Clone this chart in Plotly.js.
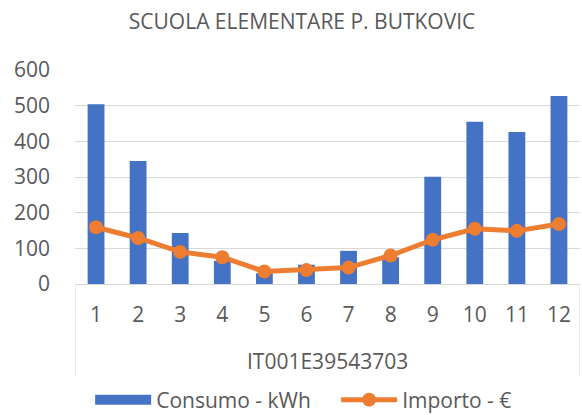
<!DOCTYPE html>
<html><head><meta charset="utf-8">
<script src="https://cdn.plot.ly/plotly-3.0.1.min.js"></script>
<style>html,body{margin:0;padding:0;background:#fff}#chart{width:582px;height:415px}</style>
</head><body><div id="chart"></div>
<script>
const groupLabel = "IT001E39543703";
const months = ["1","2","3","4","5","6","7","8","9","10","11","12"];
const consumo = [504, 345, 143, 65, 30, 54, 93, 75, 301, 455, 426, 527];
const importo = [159, 129, 90, 75, 35, 39, 46, 80, 124, 155, 149, 168];

const font = "'Open Sans', sans-serif";
const grey = "#595959";
const blue = "#4472C4";
const orange = "#ED7D31";
const lineGrey = "#d9d9d9";

Plotly.newPlot("chart", [
  {type: "scatter", mode: "lines", name: "Consumo - kWh",
   x: [null], y: [null], line: {color: blue, width: 13}, hoverinfo: "skip"},
  {type: "bar", name: "Consumo - kWh", showlegend: false,
   x: months, y: consumo, marker: {color: blue}},
  {type: "scatter", mode: "lines+markers", name: "Importo - €", x: months, y: importo,
   line: {color: orange, width: 5}, marker: {color: orange, size: 14}}
], {
  width: 582, height: 415,
  margin: {l: 75, r: 2, t: 70, b: 131, autoexpand: false},
  paper_bgcolor: "#fff", plot_bgcolor: "#fff",
  font: {family: font, color: grey, size: 21},
  title: {text: "SCUOLA ELEMENTARE P. BUTKOVIC", font: {size: 21, color: grey, family: font},
          xref: "container", x: 0.519, xanchor: "center", yref: "container", y: 0.948, yanchor: "middle"},
  bargap: 0.6,
  showlegend: true,
  legend: {orientation: "h", x: 0.03, xanchor: "left",
           y: -0.542, yanchor: "middle", font: {size: 21, color: grey}, itemwidth: 56,
           tracegroupgap: 0, entrywidth: 175},
  xaxis: {type: "category", range: [-0.5, 11.5], showline: true, linecolor: lineGrey, linewidth: 1,
          tickfont: {size: 21, color: grey}, ticks: "", ticklabelstandoff: 12, showgrid: false},
  yaxis: {range: [0, 600], dtick: 100, showgrid: true, gridcolor: lineGrey, gridwidth: 1,
          zeroline: false, tickfont: {size: 21, color: grey}, ticks: "", ticklabelstandoff: 24},
  annotations: [{text: groupLabel, xref: "paper", yref: "paper", x: 0.5, y: -0.36,
                 xanchor: "center", yanchor: "middle", showarrow: false,
                 font: {size: 21, color: grey, family: font}}],
  shapes: [
    {type: "line", xref: "x", yref: "paper", x0: -0.5, x1: -0.5, y0: 0, y1: -0.435,
     line: {color: lineGrey, width: 1}},
    {type: "line", xref: "x", yref: "paper", x0: 11.5, x1: 11.5, y0: 0, y1: -0.435,
     line: {color: lineGrey, width: 1}}
  ]
}, {displayModeBar: false});
</script></body></html>
